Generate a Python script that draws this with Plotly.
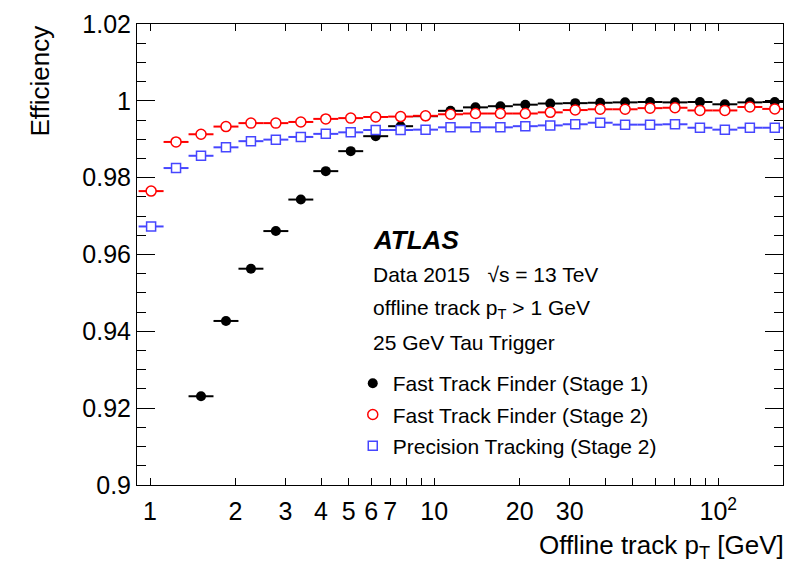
import plotly.graph_objects as go
import numpy as np

# bin centres in offline track pT [GeV] (log-spaced bins)
pt_centers = [1.009, 1.235, 1.512, 1.851, 2.266, 2.773, 3.395, 4.156, 5.087, 6.228,
              7.621, 9.329, 11.42, 13.98, 17.11, 20.94, 25.63, 31.38, 38.41, 47.01,
              57.54, 70.43, 86.21, 105.5, 129.2, 158.1]
bin_half_width_dec = 0.0439  # half bin width in decades

eff_ftf_stage1 = [None, None, 0.9231, 0.9427, 0.9563, 0.9661, 0.9743, 0.9817, 0.9869, 0.9908,
                  0.9934, 0.9960, 0.9974, 0.9983, 0.9986, 0.9990, 0.9993, 0.9994, 0.9995, 0.9996,
                  0.9997, 0.9996, 0.9997, 0.9991, 0.9996, 0.9997]
eff_ftf_stage2 = [0.9765, 0.9893, 0.9913, 0.9933, 0.9942, 0.9942, 0.9945, 0.9953, 0.9955, 0.9958,
                  0.9959, 0.9961, 0.9965, 0.9967, 0.9967, 0.9967, 0.9970, 0.9976, 0.9978, 0.9978,
                  0.9981, 0.9982, 0.9975, 0.9975, 0.9984, 0.9979]
eff_prec_stage2 = [0.9673, 0.9825, 0.9857, 0.9879, 0.9895, 0.9899, 0.9906, 0.9914, 0.9918, 0.9924,
                   0.9924, 0.9925, 0.9931, 0.9931, 0.9931, 0.9934, 0.9936, 0.9939, 0.9943, 0.9938,
                   0.9938, 0.9939, 0.9930, 0.9925, 0.9930, 0.9930]

series_names = ["Fast Track Finder (Stage 1)", "Fast Track Finder (Stage 2)", "Precision Tracking (Stage 2)"]

y_tick_vals = [0.9, 0.92, 0.94, 0.96, 0.98, 1.0, 1.02]
y_tick_text = ["0.9", "0.92", "0.94", "0.96", "0.98", "1", "1.02"]
x_tick_vals = [1, 2, 3, 4, 5, 6, 7, 10, 20, 30, 100]
x_tick_text = ["1", "2", "3", "4", "5", "6", "7", "10", "20", "30", "10<sup>2</sup>"]
x_unlabelled_ticks = [8, 9, 40, 50, 60, 70, 80, 90]
x_decades = [1, 10, 100]

FONT = "Liberation Sans, Arial, Helvetica, sans-serif"
BLUE = "#4646ff"

pt = np.array(pt_centers)
err_minus = pt * (1 - 10 ** (-bin_half_width_dec))
err_plus = pt * (10 ** bin_half_width_dec - 1)

fig = go.Figure()

styles = [
    dict(symbol="circle", size=10, color="black", line=dict(color="black", width=0), ecol="black"),
    dict(symbol="circle", size=10, color="white", line=dict(color="red", width=1.5), ecol="red"),
    dict(symbol="square", size=9, color="white", line=dict(color=BLUE, width=1.5), ecol=BLUE),
]
for i, (name, vals, st) in enumerate(zip(series_names, [eff_ftf_stage1, eff_ftf_stage2, eff_prec_stage2], styles)):
    fig.add_trace(go.Scatter(
        x=pt_centers, y=vals, mode="markers", name=name, legendgroup=f"g{i}",
        marker=dict(symbol=st["symbol"], size=st["size"], color=st["color"], line=st["line"]),
        error_x=dict(type="data", symmetric=False, array=err_plus, arrayminus=err_minus,
                     color=st["ecol"], thickness=2, width=0),
        cliponaxis=True,
    ))

x_range = [np.log10(0.9), np.log10(169)]

fig.update_layout(
    width=787, height=563,
    margin=dict(l=137, r=4, t=24, b=78),
    paper_bgcolor="white", plot_bgcolor="white",
    font=dict(family=FONT, color="black", size=25),
    showlegend=True,
    legend=dict(x=0.334, y=0.2645, xanchor="left", yanchor="top",
                bgcolor="rgba(0,0,0,0)", font=dict(size=21, family=FONT),
                traceorder="grouped", tracegroupgap=1, itemsizing="trace"),
    xaxis=dict(type="log", range=x_range, showgrid=False, zeroline=False,
               showline=True, linecolor="black", linewidth=1, mirror="ticks",
               ticks="inside", ticklen=7, tickwidth=1, tickcolor="black",
               tickmode="array", tickvals=x_tick_vals, ticktext=x_tick_text,
               tickfont=dict(size=25, family=FONT), ticklabelstandoff=4,
               minor=dict(tickmode="array", tickvals=x_unlabelled_ticks, ticks="inside",
                          ticklen=7, tickwidth=1, tickcolor="black", showgrid=False)),
    xaxis2=dict(type="log", range=x_range, overlaying="x", anchor="y", side="bottom",
                showgrid=False, zeroline=False, showline=False, mirror="ticks",
                ticks="inside", ticklen=13, tickwidth=1, tickcolor="black",
                tickmode="array", tickvals=x_decades, showticklabels=False),
    yaxis=dict(range=[0.9, 1.02], showgrid=False, zeroline=False,
               showline=True, linecolor="black", linewidth=1, mirror="ticks",
               ticks="inside", ticklen=18, tickwidth=1, tickcolor="black",
               tickmode="array", tickvals=y_tick_vals, ticktext=y_tick_text,
               tickfont=dict(size=25, family=FONT),
               minor=dict(dtick=0.005, tick0=0.9, ticks="inside", ticklen=9, tickwidth=1, tickcolor="black")),
)

def px_x(px):
    return (px - 137) / (787 - 137 - 4)

def px_y(py):
    return (563 - 78 - py) / (563 - 24 - 78)

ann = [
    dict(text="<b><i>ATLAS</i></b>", x=px_x(371), y=px_y(240), size=26),
    dict(text="Data 2015\u00a0\u00a0\u00a0\u221as = 13 TeV", x=px_x(371), y=px_y(274), size=21),
    dict(text="offline track p<sub>T</sub> > 1 GeV", x=px_x(371), y=px_y(309), size=21),
    dict(text="25 GeV Tau Trigger", x=px_x(371), y=px_y(343), size=21),
]
for a in ann:
    fig.add_annotation(text=a["text"], x=a["x"], y=a["y"], xref="paper", yref="paper",
                       xanchor="left", yanchor="middle", showarrow=False,
                       font=dict(size=a["size"], family=FONT, color="black"))

fig.add_annotation(text="Efficiency", textangle=-90, x=px_x(39), y=1.0, xref="paper", yref="paper",
                   xanchor="center", yanchor="top", showarrow=False, font=dict(size=26, family=FONT))
fig.add_annotation(text="Offline track p<sub>T</sub> [GeV]", x=1.0, y=px_y(546), xref="paper", yref="paper",
                   xanchor="right", yanchor="middle", xshift=3, showarrow=False, font=dict(size=26, family=FONT))

fig.write_html("out.html")
